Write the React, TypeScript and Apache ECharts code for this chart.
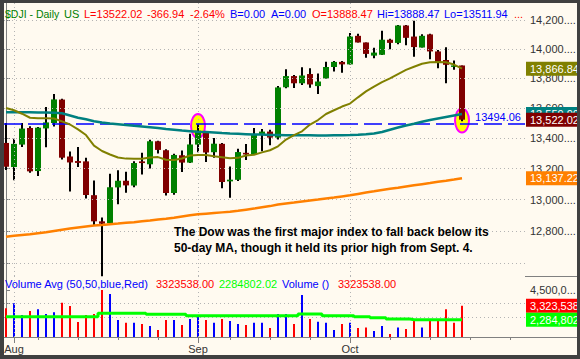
import { useEffect, useRef } from 'react';
import * as echarts from 'echarts';

// ---------- data ----------
const dates = [
  '2007-07-31',
  '2007-08-01', '2007-08-02', '2007-08-03', '2007-08-06', '2007-08-07', '2007-08-08', '2007-08-09', '2007-08-10',
  '2007-08-13', '2007-08-14', '2007-08-15', '2007-08-16', '2007-08-17', '2007-08-20', '2007-08-21', '2007-08-22',
  '2007-08-23', '2007-08-24', '2007-08-27', '2007-08-28', '2007-08-29', '2007-08-30', '2007-08-31',
  '2007-09-04', '2007-09-05', '2007-09-06', '2007-09-07', '2007-09-10', '2007-09-11', '2007-09-12', '2007-09-13',
  '2007-09-14', '2007-09-17', '2007-09-18', '2007-09-19', '2007-09-20', '2007-09-21', '2007-09-24', '2007-09-25',
  '2007-09-26', '2007-09-27', '2007-09-28',
  '2007-10-01', '2007-10-02', '2007-10-03', '2007-10-04', '2007-10-05', '2007-10-08', '2007-10-09', '2007-10-10',
  '2007-10-11', '2007-10-12', '2007-10-15', '2007-10-16', '2007-10-17', '2007-10-18', '2007-10-19',
  // empty future slots on the axis
  '2007-10-22', '2007-10-23', '2007-10-24', '2007-10-25', '2007-10-26', '2007-10-29', '2007-10-30',
];

const opens = [13368, 13210, 13357, 13467, 13184, 13464, 13500, 13657, 13279, 13249, 13247, 13028, 12861, 12849, 13078, 13121, 13090, 13247, 13228, 13379, 13320, 13042, 13287, 13239, 13357, 13437, 13307, 13362, 13117, 13127, 13303, 13292, 13420, 13443, 13403, 13740, 13816, 13767, 13830, 13748, 13800, 13878, 13913, 13896, 14093, 14047, 13956, 13962, 14066, 14044, 14165, 14088, 14012, 14103, 13985, 13926, 13880, 13888.47];
const highs = [13500, 13395, 13500, 13478, 13473, 13607, 13695, 13662, 13312, 13342, 13271, 13122, 12886, 13167, 13189, 13180, 13247, 13303, 13389, 13383, 13326, 13297, 13318, 13429, 13492, 13437, 13400, 13368, 13213, 13329, 13361, 13467, 13460, 13455, 13749, 13862, 13823, 13876, 13869, 13834, 13914, 13919, 13919, 14112, 14107, 14047, 14011, 14128, 14072, 14169, 14169, 14198, 14104, 14107, 13995, 14014, 13922, 13888.47];
const lows = [13191, 13124, 13342, 13173, 13151, 13339, 13477, 13260, 13051, 13210, 13007, 12836, 12518, 12849, 12970, 13044, 13079, 13162, 13200, 13299, 13026, 13030, 13177, 13236, 13307, 13243, 13271, 13073, 13011, 13120, 13256, 13292, 13314, 13352, 13390, 13733, 13735, 13756, 13737, 13695, 13800, 13848, 13839, 13896, 14047, 13942, 13938, 13961, 14000, 14035, 14027, 13949, 14012, 13931, 13869, 13767, 13860, 13511.94];
const closes = [13212, 13362, 13463, 13182, 13469, 13504, 13658, 13271, 13240, 13237, 13029, 12861, 12846, 13079, 13121, 13091, 13236.13, 13235.88, 13379, 13322, 13042, 13289, 13239, 13358, 13449, 13305, 13363, 13113, 13128, 13308, 13292, 13425, 13443, 13403, 13739, 13816, 13767, 13820, 13759, 13779, 13878, 13913, 13896, 14088, 14047, 13968, 13977, 14066, 14044, 14165, 14079, 14015, 14093, 13985, 13913, 13893, 13888.96, 13522.02];
const prevClose = 13358.31;

const ma20 = [13600, 13585, 13562, 13535, 13531, 13531, 13530, 13511, 13490, 13458, 13420, 13350, 13315, 13292, 13272, 13265, 13264, 13264, 13272, 13275, 13258, 13256, 13266, 13285, 13288, 13288, 13280, 13274, 13267, 13270, 13285, 13290, 13306, 13320, 13346, 13390, 13420, 13445, 13490, 13520, 13560, 13585, 13610, 13630, 13672, 13712, 13745, 13775, 13800, 13830, 13858, 13880, 13900, 13910, 13912, 13910, 13895, 13866.84];
const ma50 = [13571, 13572, 13572, 13571, 13570, 13570, 13569, 13565, 13550, 13535, 13525, 13512, 13503, 13497, 13492, 13487, 13481, 13477, 13472, 13467, 13460, 13455, 13450, 13446, 13442, 13440, 13437, 13433, 13430, 13428, 13426, 13424, 13423, 13421, 13420, 13419, 13418, 13418, 13418, 13417, 13417, 13418, 13419, 13420, 13422, 13425, 13430, 13440, 13455, 13470, 13483, 13495, 13508, 13520, 13530, 13540, 13550, 13559.9];
const ma200 = [12764, 12770, 12775, 12780, 12786, 12792, 12800, 12808, 12815, 12822, 12828, 12834, 12838, 12843, 12847, 12852, 12856, 12861, 12866, 12872, 12877, 12884, 12892, 12900, 12906, 12910, 12914, 12918, 12922, 12928, 12935, 12942, 12950, 12958, 12968, 12975, 12981, 12988, 12994, 13000, 13007, 13013, 13020, 13027, 13036, 13045, 13053, 13062, 13069, 13076, 13084, 13092, 13099, 13106, 13114, 13121, 13129, 13137.22];

const volumes = [3140000, 3510000, 2640000, 2940000, 3060000, 2710000, 2840000, 3550000, 3310000, 2120000, 2640000, 2710000, 4500000, 4200000, 2270000, 2060000, 2060000, 1970000, 1820000, 1520000, 2270000, 2270000, 1890000, 2340000, 2560000, 2270000, 2060000, 2340000, 2190000, 1970000, 1890000, 2060000, 2060000, 1670000, 2710000, 2710000, 1970000, 4130000, 2340000, 2140000, 2060000, 1520000, 1970000, 2060000, 1670000, 1700000, 1450000, 1820000, 1220000, 1700000, 1600000, 2340000, 1700000, 2190000, 2270000, 3060000, 2060000, 3323538];
const volumeAvg = [2510000, 2510000, 2510000, 2510000, 2510000, 2510000, 2510000, 2510000, 2510000, 2510000, 2510000, 2510000, 2760000, 2760000, 2760000, 2760000, 2760000, 2760000, 2690000, 2690000, 2690000, 2690000, 2690000, 2590000, 2590000, 2590000, 2590000, 2590000, 2590000, 2590000, 2590000, 2590000, 2590000, 2590000, 2590000, 2590000, 2590000, 2710000, 2710000, 2710000, 2590000, 2590000, 2590000, 2590000, 2510000, 2510000, 2440000, 2440000, 2340000, 2340000, 2340000, 2290000, 2290000, 2290000, 2290000, 2290000, 2290000, 2284802.02];

const priceGridLines = [12600, 12800, 13000, 13200, 13400, 13600, 13800, 14000, 14200];
const priceTickLabels = [12800, 13000, 13200, 13400, 13600, 13800, 14000, 14200];
const volumeGridLines = [2500000, 3500000];
const volumeTicks = [2500000, 3500000, 4500000];
const volumeTickLabels = [4500000];
const supportLevel = 13494.06;
const highlightIdx = [24, 57];
const highlightPrice = [13480, 13517];
const noteLines = [
  'The Dow was the first major index to fall back below its',
  '50-day MA, though it held its prior high from Sept. 4.',
];

// ---------- helpers ----------
const FONT = 'Arial, "Liberation Sans", sans-serif';
const dayOf = (d: string) => new Date(d + 'T00:00:00Z').getUTCDay();
const monthOf = (d: string) => new Date(d + 'T00:00:00Z').getUTCMonth();
const weekStarts = dates.map((d, i) => i).filter((i) => i > 0 && dayOf(dates[i]) < dayOf(dates[i - 1]));
const monthStarts = dates.map((d, i) => i).filter((i) => i > 0 && monthOf(dates[i]) !== monthOf(dates[i - 1]));
const monthName = (i: number) =>
  new Date(dates[i] + 'T00:00:00Z').toLocaleString('en-US', { month: 'short', timeZone: 'UTC' });
const fmt2 = (v: number) => v.toLocaleString('en-US', { minimumFractionDigits: 2, maximumFractionDigits: 2 });
const fmt0 = (v: number) => v.toLocaleString('en-US', { maximumFractionDigits: 0 });

const last = closes.length - 1;
const chg = closes[last] - closes[last - 1];
const pct = (chg / closes[last - 1]) * 100;

const X_MIN = -0.25;
const X_MAX = 64.875;

function txt(text: string, x: number, y: number, fill: string, font = `11px ${FONT}`) {
  return { type: 'text', x, y, z: 50, silent: true, style: { text, fill, font, align: 'left', verticalAlign: 'middle' } };
}

function box(value: number, text: string, bg: string) {
  return {
    yAxis: value,
    lineStyle: { color: 'rgba(0,0,0,0)', width: 0 },
    label: {
      show: true,
      position: 'end',
      formatter: text,
      distance: 1,
      color: '#ffffff',
      backgroundColor: bg,
      fontSize: 11,
      fontFamily: FONT,
      lineHeight: 12,
      padding: [1, 30, 1, 4],
    },
  };
}

export default function App() {
  const ref = useRef<HTMLDivElement>(null);
  useEffect(() => {
    if (!ref.current) return;
    const chart = echarts.init(ref.current, undefined, { renderer: 'svg' });
    const gridLineStyle = { type: [1, 3], color: '#b4b4b4', width: 1 };

    const option: any = {
      animation: false,
      backgroundColor: '#fffaf0',
      textStyle: { fontFamily: FONT },
      grid: [
        { left: 4, top: 3, width: 521, height: 273 },
        { left: 4, top: 276, width: 521, height: 61 },
      ],
      xAxis: [
        { gridIndex: 0, type: 'value', min: X_MIN, max: X_MAX, show: false },
        {
          gridIndex: 1, type: 'value', min: X_MIN, max: X_MAX, position: 'bottom',
          axisLine: { show: true, lineStyle: { color: '#808080', width: 1 } },
          axisTick: { show: true, customValues: weekStarts, length: 3, lineStyle: { color: '#808080' } },
          axisLabel: { show: false },
          splitLine: { show: false },
        },
        {
          gridIndex: 1, type: 'value', min: X_MIN, max: X_MAX, position: 'bottom',
          axisLine: { show: false },
          axisTick: { show: true, customValues: monthStarts, length: 6, lineStyle: { color: '#808080' } },
          axisLabel: {
            show: true, customValues: monthStarts, formatter: (v: number) => monthName(v),
            fontSize: 11, color: '#333333', margin: 6,
          },
          splitLine: { show: false },
        },
      ],
      yAxis: [
        {
          gridIndex: 0, type: 'log', min: 12519, max: 14323, position: 'right',
          axisLine: { show: true, lineStyle: { color: '#808080' } },
          axisTick: { show: true, customValues: priceGridLines, length: 4, lineStyle: { color: '#808080' } },
          axisLabel: {
            show: true, customValues: priceTickLabels,
            formatter: (v: number) => fmt0(v) + '....',
            fontSize: 11, color: '#333333', margin: 5,
          },
          splitLine: { show: false },
        },
        {
          gridIndex: 1, type: 'value', min: 1000000, max: 5540000, position: 'right',
          axisLine: { show: true, lineStyle: { color: '#808080' } },
          axisTick: { show: true, customValues: volumeTicks, length: 4, lineStyle: { color: '#808080' } },
          axisLabel: {
            show: true, customValues: volumeTickLabels,
            formatter: (v: number) => fmt0(v).slice(0, 7) + '...',
            fontSize: 11, color: '#333333', margin: 5,
          },
          splitLine: { show: false },
        },
      ],
      series: [
        {
          name: 'priceGrid', type: 'line', xAxisIndex: 0, yAxisIndex: 0, data: [], z: 1, silent: true,
          markLine: {
            silent: true, symbol: ['none', 'none'], label: { show: false }, lineStyle: gridLineStyle,
            data: [...priceGridLines.map((v) => ({ yAxis: v })), ...monthStarts.map((i) => ({ xAxis: i }))],
          },
        },
        {
          name: 'volGrid', type: 'line', xAxisIndex: 1, yAxisIndex: 1, data: [], z: 1, silent: true,
          markLine: {
            silent: true, symbol: ['none', 'none'], label: { show: false }, lineStyle: gridLineStyle,
            data: [...volumeGridLines.map((v) => ({ yAxis: v })), ...monthStarts.map((i) => ({ xAxis: i }))],
          },
        },
        {
          name: 'support', type: 'line', xAxisIndex: 0, yAxisIndex: 0, data: [], z: 2, silent: true,
          markLine: {
            silent: true, symbol: ['none', 'none'],
            lineStyle: { color: '#0000ff', type: [18, 6], width: 1.5 },
            label: {
              show: true, position: 'insideEndTop', formatter: supportLevel.toFixed(2),
              color: '#0000ff', fontSize: 11, fontFamily: FONT, distance: [4, 1],
            },
            data: [{ yAxis: supportLevel }],
          },
        },
        {
          name: 'highlights', type: 'custom', xAxisIndex: 0, yAxisIndex: 0, z: 3, silent: true,
          data: highlightIdx.map((i, k) => [i, highlightPrice[k]]),
          encode: { x: 0, y: 1 },
          renderItem: (params: any, api: any) => {
            const p = api.coord([api.value(0), api.value(1)]);
            return {
              type: 'ellipse',
              shape: { cx: p[0], cy: p[1], rx: 7, ry: 12 },
              style: { fill: '#ffff00', stroke: '#ff00ff', lineWidth: 2 },
            };
          },
        },
        {
          name: 'candles', type: 'custom', xAxisIndex: 0, yAxisIndex: 0, z: 4, silent: true,
          data: closes.map((c, i) => [i, opens[i], c, lows[i], highs[i]]),
          encode: { x: 0, y: [1, 2, 3, 4] },
          renderItem: (params: any, api: any) => {
            const i = api.value(0);
            const o = api.value(1), c = api.value(2), l = api.value(3), h = api.value(4);
            const pO = api.coord([i, o]);
            const pC = api.coord([i, c]);
            const pL = api.coord([i, l]);
            const pH = api.coord([i, h]);
            const x = pO[0];
            const top = Math.min(pO[1], pC[1]);
            const hgt = Math.max(1.5, Math.abs(pO[1] - pC[1]));
            return {
              type: 'group',
              children: [
                { type: 'line', shape: { x1: x, y1: pH[1], x2: x, y2: pL[1] }, style: { stroke: '#000000', lineWidth: 2 } },
                { type: 'rect', shape: { x: x - 3, y: top, width: 6, height: hgt }, style: { fill: c >= o ? '#008000' : '#800000' } },
              ],
            };
          },
        },
        {
          name: 'MA200', type: 'line', xAxisIndex: 0, yAxisIndex: 0, z: 5, silent: true, showSymbol: false,
          data: ma200.map((v, i) => [i, v]), lineStyle: { color: '#ff8000', width: 2.5 },
        },
        {
          name: 'MA50', type: 'line', xAxisIndex: 0, yAxisIndex: 0, z: 5, silent: true, showSymbol: false,
          data: ma50.map((v, i) => [i, v]), lineStyle: { color: '#008080', width: 2.5 },
        },
        {
          name: 'MA20', type: 'line', xAxisIndex: 0, yAxisIndex: 0, z: 5, silent: true, showSymbol: false,
          data: ma20.map((v, i) => [i, v]), lineStyle: { color: '#808000', width: 2 },
        },
        {
          name: 'priceBoxes', type: 'line', xAxisIndex: 0, yAxisIndex: 0, data: [], z: 6, silent: true,
          markLine: {
            silent: true, symbol: ['none', 'none'],
            data: [
              box(ma200[last], fmt2(ma200[last]), '#ff8000'),
              box(ma50[last], fmt2(ma50[last]), '#008080'),
              box(closes[last], fmt2(closes[last]), '#800000'),
              box(ma20[last], fmt2(ma20[last]), '#808000'),
            ],
          },
        },
        {
          name: 'volume', type: 'custom', xAxisIndex: 1, yAxisIndex: 1, z: 4, silent: true,
          data: volumes.map((v, i) => [i, v]),
          encode: { x: 0, y: 1 },
          renderItem: (params: any, api: any) => {
            const i = api.value(0);
            const p = api.coord([i, api.value(1)]);
            const base = params.coordSys.y + params.coordSys.height;
            const prev = i > 0 ? closes[i - 1] : prevClose;
            return {
              type: 'rect',
              shape: { x: p[0] - 1, y: p[1], width: 2, height: base - p[1] },
              style: { fill: closes[i] < prev ? '#ff0000' : '#0000ff' },
            };
          },
        },
        {
          name: 'volumeAvg', type: 'line', xAxisIndex: 1, yAxisIndex: 1, z: 5, silent: true, showSymbol: false,
          step: 'middle', data: volumeAvg.map((v, i) => [i, v]), lineStyle: { color: '#00ff00', width: 3 },
        },
        {
          name: 'volBoxes', type: 'line', xAxisIndex: 1, yAxisIndex: 1, data: [], z: 6, silent: true,
          markLine: {
            silent: true, symbol: ['none', 'none'],
            data: [
              box(volumes[last], fmt0(volumes[last]), '#ff0000'),
              box(volumeAvg[last], fmt0(volumeAvg[last]), '#00ff00'),
            ],
          },
        },
      ],
      graphic: [
        // title row
        txt('$DJI - Daily', 5, 14, '#008000', `10.5px ${FONT}`),
        txt('US', 64, 14, '#008000'),
        txt('L=' + closes[last].toFixed(2), 84, 14, '#ff0000'),
        txt(chg.toFixed(2), 147, 14, '#ff0000'),
        txt(pct.toFixed(2) + '%', 190, 14, '#ff0000'),
        txt('B=0.00', 230, 14, '#0000ff'),
        txt('A=0.00', 271, 14, '#0000ff'),
        txt('O=' + opens[last].toFixed(2), 312, 14, '#ff0000'),
        txt('Hi=' + highs[last].toFixed(2), 377, 14, '#0000ff'),
        txt('Lo=' + lows[last].toFixed(2), 444, 14, '#0000ff'),
        txt('...', 514, 14, '#ff0000'),
        // volume legend
        txt('Volume Avg (50,50,blue,Red)', 5, 284, '#0000ff'),
        txt(volumes[last].toFixed(2), 156, 284, '#ff0000'),
        txt(volumeAvg[last].toFixed(2), 219, 284, '#00ff00'),
        txt('Volume ()', 282, 284, '#0000ff'),
        txt(volumes[last].toFixed(2), 338, 284, '#ff0000'),
        // annotation
        txt(noteLines[0], 174, 232, '#000000', `bold 12px ${FONT}`),
        txt(noteLines[1], 174, 248, '#000000', `bold 12px ${FONT}`),
        // axis-area lines
        { type: 'line', z: 40, silent: true, shape: { x1: 525, y1: 276.5, x2: 577, y2: 276.5 }, style: { stroke: '#808080', lineWidth: 1 } },
        { type: 'line', z: 40, silent: true, shape: { x1: 525, y1: 337.5, x2: 577, y2: 337.5 }, style: { stroke: '#808080', lineWidth: 1 } },
        // frame
        { type: 'rect', z: 100, silent: true, shape: { x: 0, y: 0, width: 580, height: 3 }, style: { fill: '#404040' } },
        { type: 'rect', z: 100, silent: true, shape: { x: 0, y: 0, width: 4, height: 359 }, style: { fill: '#404040' } },
        { type: 'rect', z: 100, silent: true, shape: { x: 0, y: 355, width: 580, height: 4 }, style: { fill: '#404040' } },
        { type: 'rect', z: 100, silent: true, shape: { x: 577, y: 0, width: 3, height: 359 }, style: { fill: '#404040' } },
      ],
    };

    chart.setOption(option);
    return () => chart.dispose();
  }, []);

  return <div ref={ref} style={{ position: 'fixed', left: 0, top: 0, width: 580, height: 359 }} />;
}
